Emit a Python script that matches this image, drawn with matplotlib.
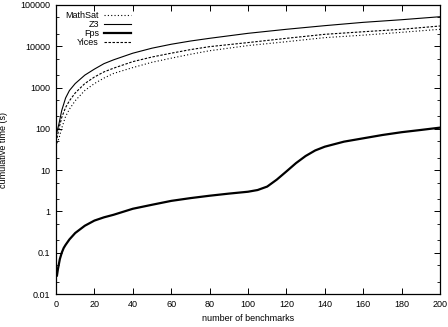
import numpy as np
import matplotlib
matplotlib.use("Agg")
import matplotlib.pyplot as plt
from matplotlib.ticker import LogLocator, FixedLocator, NullFormatter, FuncFormatter

# cumulative solving time (s)
bench = [0.5, 1.5, 3, 5, 7, 10, 15, 20, 25, 30, 40, 50, 60, 70, 80,
         100, 120, 140, 160, 180, 200]
z3 = [85, 130, 280, 560, 850, 1250, 2000, 2800, 3800, 4700, 6800, 9000, 11200,
      13400, 15600, 20600, 25800, 31600, 38000, 44000, 52000]
yices = [60, 100, 190, 330, 480, 740, 1250, 1800, 2400, 2950, 4250, 5500, 6800,
         8300, 9800, 12300, 15600, 19500, 22500, 25800, 31000]
mathsat = [45, 58, 105, 200, 300, 480, 850, 1250, 1700, 2200, 3050, 4100, 5150,
           6400, 7800, 10400, 12900, 16200, 18600, 21800, 25800]

bench_fps = [0.5, 1, 2, 3, 4, 5, 7, 10, 15, 20, 25, 30, 40, 50, 60, 70, 80, 90,
             100, 105, 110, 115, 120, 125, 130, 135, 140, 150, 160, 170, 180, 190, 200]
fps = [0.028, 0.04, 0.07, 0.1, 0.13, 0.155, 0.21, 0.3, 0.45, 0.6, 0.72, 0.83,
       1.16, 1.45, 1.8, 2.1, 2.4, 2.7, 3.0, 3.3, 4.0, 5.9, 9.3, 14.8, 22, 30, 37,
       49, 59, 71, 83, 94, 107]

plt.rcParams['font.family'] = ['Liberation Sans', 'DejaVu Sans']
plt.rcParams['font.size'] = 6.5

fig = plt.figure(figsize=(4.48, 3.27), dpi=100)
ax = fig.add_axes([56 / 448, 33 / 327, 384 / 448, 289 / 327])

ax.plot(bench, mathsat, color='black', lw=0.8, ls=(0, (1, 2)), label='MathSat')
ax.plot(bench, z3, color='black', lw=0.8, ls='-', label='Z3')
ax.plot(bench_fps, fps, color='black', lw=1.6, ls='-', label='Fps')
ax.plot(bench, yices, color='black', lw=0.8, ls=(0, (2.2, 1.4)), label='Yices')

ax.set_yscale('log')
ax.set_xlim(0, 200)
ax.set_ylim(0.01, 100000)
ax.set_xticks(np.arange(0, 201, 20))
ax.yaxis.set_major_locator(FixedLocator([0.01, 0.1, 1, 10, 100, 1000, 10000, 100000]))
ax.yaxis.set_major_formatter(FuncFormatter(lambda v, p: f"{v:g}"))
ax.yaxis.set_minor_locator(LogLocator(base=10, subs=(2, 5), numticks=20))
ax.yaxis.set_minor_formatter(NullFormatter())

ax.tick_params(which='both', direction='in', top=True, right=True, colors='black')
ax.tick_params(which='major', length=4, width=0.7, pad=4)
ax.tick_params(which='minor', length=2, width=0.6)
for s in ax.spines.values():
    s.set_linewidth(0.9)

ax.set_xlabel("number of benchmarks", labelpad=4)
ax.set_ylabel("cumulative time (s)", labelpad=9)

leg = ax.legend(loc='upper left', bbox_to_anchor=(0.008, 1.0), frameon=False,
                markerfirst=False, handlelength=3.0, handletextpad=0.6,
                labelspacing=0.0, borderaxespad=0.3, fontsize=6.5)

fig.savefig("out.png", dpi=100)
